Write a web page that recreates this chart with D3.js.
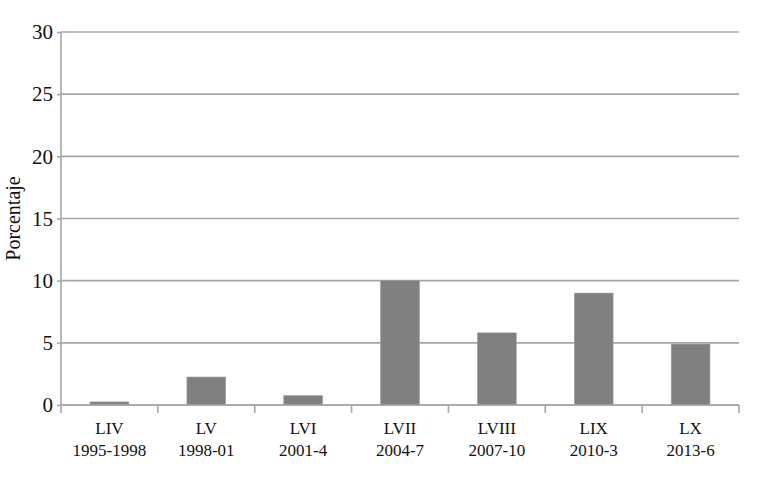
<!DOCTYPE html>
<html><head><meta charset="utf-8">
<script src="https://cdn.jsdelivr.net/npm/d3@7"></script>
<style>body{margin:0;background:#fff}</style>
</head><body>
<svg id="c" width="759" height="493"></svg>
<script>
const legislaturas = ["LIV","LV","LVI","LVII","LVIII","LIX","LX"];
const periodos = ["1995-1998","1998-01","2001-4","2004-7","2007-10","2010-3","2013-6"];
const porcentaje = [0.25, 2.25, 0.75, 10, 5.8, 9.0, 4.9];
const yTicks = [0, 5, 10, 15, 20, 25, 30];
const yTitle = "Porcentaje";

const svg = d3.select("#c");
const m = {l:61, r:20, t:32, b:88};
const W = 759, H = 493;
const x = d3.scaleBand().domain(legislaturas).range([m.l, W - m.r]).paddingInner(0.6).paddingOuter(0.3);
const y = d3.scaleLinear().domain([0, 30]).range([H - m.b, m.t]);
const font = "'Liberation Serif', 'Times New Roman', serif";
const grid = "#a6a6a6";

// gridlines
svg.append("g").selectAll("line").data(yTicks).join("line")
  .attr("x1", m.l).attr("x2", W - m.r)
  .attr("y1", d => y(d)).attr("y2", d => y(d))
  .attr("stroke", grid).attr("stroke-width", 1.6);

// bars
svg.append("g").selectAll("rect").data(porcentaje).join("rect")
  .attr("x", (d,i) => x(legislaturas[i]))
  .attr("width", x.bandwidth())
  .attr("y", d => y(d))
  .attr("height", d => y(0) - y(d))
  .attr("fill", "#808080").attr("stroke", "#9a9a9a").attr("stroke-width", 0.6);

// y axis
const ya = svg.append("g").attr("transform", `translate(${m.l},0)`)
  .call(d3.axisLeft(y).tickValues(yTicks).tickSize(4).tickPadding(4));
ya.select(".domain").attr("stroke", grid).attr("stroke-width", 1.6).attr("d", `M0,${y(0)+0.5}V${y(30)}`);
ya.selectAll(".tick line").attr("stroke", grid).attr("stroke-width", 1.6);
ya.selectAll(".tick text").attr("font-family", font).attr("font-size", 21).attr("fill", "#111");

// x axis baseline & tick marks at category boundaries
const edges = d3.range(legislaturas.length + 1).map(i => m.l + i * (W - m.r - m.l) / legislaturas.length);
svg.append("line").attr("x1", m.l).attr("x2", W - m.r).attr("y1", y(0)).attr("y2", y(0))
  .attr("stroke", grid).attr("stroke-width", 1.6);
svg.append("g").selectAll("line").data(edges).join("line")
  .attr("x1", d => d).attr("x2", d => d).attr("y1", y(0)).attr("y2", y(0) + 8)
  .attr("stroke", grid).attr("stroke-width", 1.6);

// category labels
const cl = svg.append("g").selectAll("text").data(legislaturas).join("text")
  .attr("x", d => x(d) + x.bandwidth()/2)
  .attr("text-anchor", "middle").attr("font-family", font).attr("font-size", 17).attr("fill", "#111");
cl.append("tspan").attr("x", d => x(d) + x.bandwidth()/2).attr("y", 434).text(d => d);
cl.append("tspan").attr("x", d => x(d) + x.bandwidth()/2).attr("y", 456).text((d,i) => periodos[i]);

// y title
svg.append("text").attr("transform", `translate(20,${(y(0)+y(30))/2}) rotate(-90)`)
  .attr("text-anchor", "middle").attr("font-family", font).attr("font-size", 20).attr("fill", "#111")
  .text(yTitle);
</script>
</body></html>
